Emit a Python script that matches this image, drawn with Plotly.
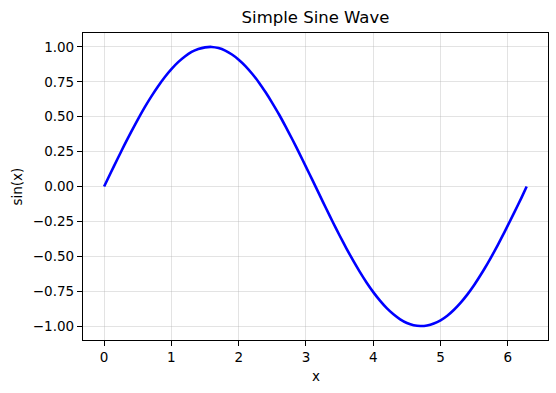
import plotly.graph_objects as go

x_vals = [0.0, 0.1, 0.2, 0.3, 0.4, 0.5, 0.6, 0.7, 0.8, 0.9, 1.0, 1.1, 1.2, 1.3, 1.4, 1.5, 1.6,
          1.7, 1.8, 1.9, 2.0, 2.1, 2.2, 2.3, 2.4, 2.5, 2.6, 2.7, 2.8, 2.9, 3.0, 3.1, 3.2,
          3.3, 3.4, 3.5, 3.6, 3.7, 3.8, 3.9, 4.0, 4.1, 4.2, 4.3, 4.4, 4.5, 4.6, 4.7, 4.8,
          4.9, 5.0, 5.1, 5.2, 5.3, 5.4, 5.5, 5.6, 5.7, 5.8, 5.9, 6.0, 6.1, 6.2, 6.28]
y_vals = [0.000, 0.100, 0.199, 0.296, 0.389, 0.479, 0.565, 0.644, 0.717, 0.783, 0.841, 0.891, 0.932, 0.964, 0.985, 0.997, 1.000,
          0.992, 0.974, 0.946, 0.909, 0.863, 0.808, 0.746, 0.675, 0.598, 0.516, 0.427, 0.335, 0.239, 0.141, 0.042, -0.058,
          -0.158, -0.256, -0.351, -0.443, -0.530, -0.612, -0.688, -0.757, -0.818, -0.872, -0.916, -0.952, -0.978, -0.994, -1.000, -0.996,
          -0.982, -0.959, -0.926, -0.883, -0.832, -0.773, -0.706, -0.631, -0.551, -0.465, -0.374, -0.279, -0.182, -0.083, 0.000]

x_ticks = [0, 1, 2, 3, 4, 5, 6]
y_ticks = [-1.0, -0.75, -0.5, -0.25, 0.0, 0.25, 0.5, 0.75, 1.0]
y_tick_text = ["\u22121.00", "\u22120.75", "\u22120.50", "\u22120.25", "0.00", "0.25", "0.50", "0.75", "1.00"]

font_family = "DejaVu Sans"
W, H = 556, 393
L, R, T, B = 83, 8, 33, 53

fig = go.Figure()
fig.add_trace(go.Scatter(
    x=x_vals, y=y_vals, mode="lines",
    line=dict(color="#0000ff", width=2.6, shape="spline", smoothing=0.5),
    showlegend=False,
))

axis_common = dict(
    showline=True, linecolor="black", linewidth=1.2, mirror=True,
    ticks="outside", ticklen=5, tickwidth=1, tickcolor="black",
    showgrid=True, gridcolor="rgba(176,176,176,0.35)", gridwidth=1,
    zeroline=False, automargin=False,
    tickfont=dict(family=font_family, size=13.5, color="black"),
)

fig.update_layout(
    width=W, height=H,
    margin=dict(l=L, r=R, t=T, b=B, autoexpand=False),
    paper_bgcolor="white", plot_bgcolor="white",
    font=dict(family=font_family, color="black"),
    title=dict(text="Simple Sine Wave", x=(L + (W - L - R) / 2) / W, xanchor="center",
               y=1 - 17 / H, yanchor="middle",
               font=dict(family=font_family, size=16.5, color="black")),
    xaxis=dict(range=[-0.314, 6.597], tickvals=x_ticks, ticktext=[str(t) for t in x_ticks], **axis_common),
    yaxis=dict(range=[-1.1, 1.1], tickvals=y_ticks, ticktext=y_tick_text, **axis_common),
    annotations=[
        dict(text="x", xref="paper", yref="paper", x=0.5, y=0, yshift=-(376 - (H - B)),
             xanchor="center", yanchor="middle", showarrow=False,
             font=dict(family=font_family, size=13.5, color="black")),
        dict(text="sin(x)", xref="paper", yref="paper", x=0, y=0.5, xshift=-(L - 16),
             xanchor="center", yanchor="middle", textangle=-90, showarrow=False,
             font=dict(family=font_family, size=13.5, color="black")),
    ],
)

fig.write_html("out.html", config={"displayModeBar": False},
               post_script="document.body.style.margin='0';")
